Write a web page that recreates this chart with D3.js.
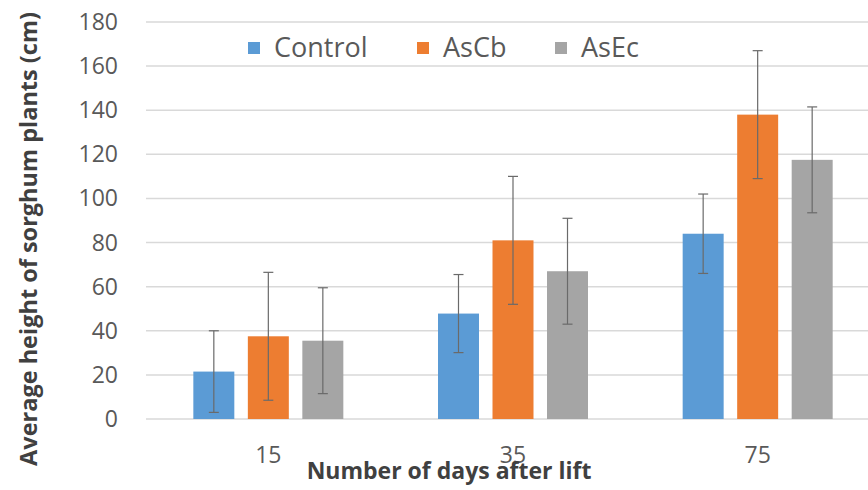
<!DOCTYPE html>
<html lang="en">
<head>
<meta charset="utf-8">
<script src="https://cdn.jsdelivr.net/npm/d3@7"></script>
<style type="text/css">
body {
	margin: 0;
	background-color: #ffffff;
	font-family: 'Open Sans', sans-serif;
}
.grid line {
	stroke: #d9d9d9;
	stroke-width: 1.5;
}
.tick-label {
	fill: #595959;
	font-size: 23px;
}
.axis-title {
	fill: #404040;
	font-weight: bold;
}
</style>
</head>
<body>
<script type="text/javascript">

// chart values
var categories = ["15", "35", "75"];
var seriesNames = ["Control", "AsCb", "AsEc"];
var control = [21.5, 47.8, 84];
var ascb = [37.5, 81, 138];
var asec = [35.5, 67, 117.5];
var controlErr = [18.5, 17.7, 18];
var ascbErr = [29, 29, 29];
var asecErr = [24, 24, 24];
var yTicks = [0, 20, 40, 60, 80, 100, 120, 140, 160, 180];

var colors = ["#5b9bd5", "#ed7d31", "#a5a5a5"];
var values = [control, ascb, asec];
var errors = [controlErr, ascbErr, asecErr];

var width = 868;
var height = 490;

var svg = d3.select("body")
	.append("svg")
	.attr("width", width)
	.attr("height", height);

var y = d3.scaleLinear()
	.domain([0, 180])
	.range([419, 22]);

var x0 = d3.scaleBand()
	.domain(categories)
	.range([146, 880])
	.padding(0);

var groupW = 150;
var x1 = d3.scaleBand()
	.domain(seriesNames)
	.range([0, groupW])
	.paddingInner(0.248)
	.paddingOuter(0);

// gridlines
svg.append("g")
	.attr("class", "grid")
	.selectAll("line")
	.data(yTicks)
	.enter()
	.append("line")
	.attr("x1", 146)
	.attr("x2", width)
	.attr("y1", function(d) { return y(d); })
	.attr("y2", function(d) { return y(d); });

// y tick labels
svg.append("g")
	.selectAll("text")
	.data(yTicks)
	.enter()
	.append("text")
	.attr("class", "tick-label")
	.attr("x", 118)
	.attr("y", function(d) { return y(d); })
	.attr("dy", "0.35em")
	.attr("text-anchor", "end")
	.text(function(d) { return d; });

// bars, one group per category
var flat = [];
categories.forEach(function(c, i) {
	seriesNames.forEach(function(s, j) {
		flat.push({cat: c, series: s, value: values[j][i], err: errors[j][i], color: colors[j]});
	});
});

var offset = (x0.bandwidth() - groupW) / 2;

function barX(d) { return x0(d.cat) + offset + x1(d.series); }

svg.append("g")
	.selectAll("rect")
	.data(flat)
	.enter()
	.append("rect")
	.attr("x", barX)
	.attr("y", function(d) { return y(d.value); })
	.attr("width", x1.bandwidth())
	.attr("height", function(d) { return y(0) - y(d.value); })
	.style("fill", function(d) { return d.color; });

// error bars
var eb = svg.append("g")
	.attr("stroke", "#6a6a6a")
	.attr("stroke-width", 1.2);

var cap = 5;
flat.forEach(function(d) {
	var cx = barX(d) + x1.bandwidth() / 2;
	eb.append("line")
		.attr("x1", cx).attr("x2", cx)
		.attr("y1", y(d.value + d.err)).attr("y2", y(d.value - d.err));
	eb.append("line")
		.attr("x1", cx - cap).attr("x2", cx + cap)
		.attr("y1", y(d.value + d.err)).attr("y2", y(d.value + d.err));
	eb.append("line")
		.attr("x1", cx - cap).attr("x2", cx + cap)
		.attr("y1", y(d.value - d.err)).attr("y2", y(d.value - d.err));
});

// category labels
svg.append("g")
	.selectAll("text")
	.data(categories)
	.enter()
	.append("text")
	.attr("class", "tick-label")
	.attr("x", function(d) { return x0(d) + x0.bandwidth() / 2; })
	.attr("y", 463)
	.attr("text-anchor", "middle")
	.text(function(d) { return d; });

// legend
var legendX = [248, 417, 555];
var legend = svg.append("g")
	.selectAll("g")
	.data(seriesNames)
	.enter()
	.append("g")
	.attr("transform", function(d, i) { return "translate(" + legendX[i] + ",48)"; });

legend.append("rect")
	.attr("x", 0)
	.attr("y", -6)
	.attr("width", 12)
	.attr("height", 12)
	.style("fill", function(d, i) { return colors[i]; });

legend.append("text")
	.attr("x", 26)
	.attr("dy", "0.35em")
	.style("font-size", "27px")
	.style("fill", "#595959")
	.text(function(d) { return d; });

// axis titles
svg.append("text")
	.attr("class", "axis-title")
	.attr("transform", "translate(37,239) rotate(-90)")
	.attr("text-anchor", "middle")
	.style("font-size", "23.5px")
	.text("Average height of sorghum plants (cm)");

svg.append("text")
	.attr("class", "axis-title")
	.attr("x", 449)
	.attr("y", 479)
	.attr("text-anchor", "middle")
	.style("font-size", "23px")
	.text("Number of days after lift");

</script>
</body>
</html>
